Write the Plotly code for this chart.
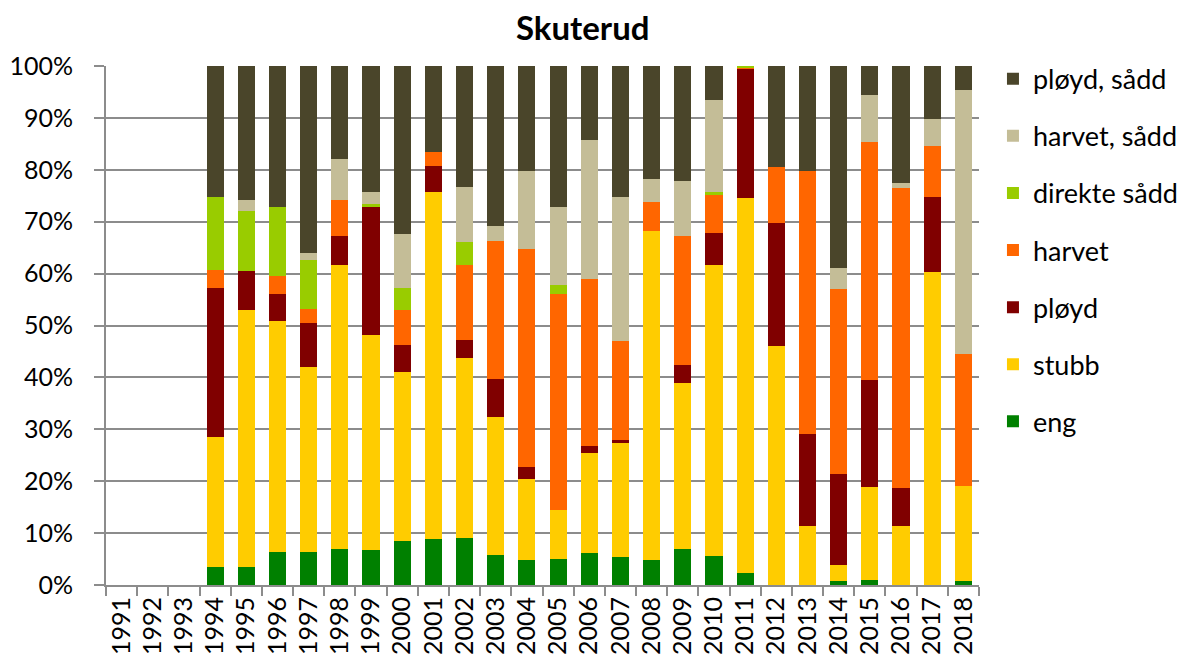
import plotly.graph_objects as go

# Skuterud - share of area per soil treatment, 1991-2018
years = [str(y) for y in range(1991, 2019)]

eng = [0, 0, 0, 3.5, 3.5, 6.4, 6.4, 7.0, 6.7,
       8.5, 8.9, 9.1, 5.7, 4.8, 5.1, 6.1, 5.4, 4.8, 7.0,
       5.5, 2.3, 0, 0, 0.7, 1.0, 0, 0, 0.7]
stubb = [0, 0, 0, 25.0, 49.4, 44.4, 35.6, 54.7, 41.5,
         32.6, 66.8, 34.7, 26.6, 15.6, 9.4, 19.4, 21.9, 63.4, 31.9,
         56.2, 72.2, 46.0, 11.3, 3.2, 17.9, 11.3, 60.4, 18.4]
ployd = [0, 0, 0, 28.8, 7.6, 5.3, 8.4, 5.6, 24.7,
         5.2, 5.0, 3.5, 7.4, 2.3, 0, 1.2, 0.6, 0, 3.4,
         6.2, 25.1, 23.7, 17.8, 17.4, 20.6, 7.3, 14.4, 0]
harvet = [0, 0, 0, 3.4, 0, 3.4, 2.8, 6.9, 0,
          6.6, 2.8, 14.4, 26.6, 42.1, 41.6, 32.2, 19.2, 5.6, 25.0,
          7.2, 0.2, 10.8, 50.7, 35.7, 45.9, 57.8, 9.7, 25.4]
direkte_sadd = [0, 0, 0, 14.1, 11.5, 13.4, 9.4, 0, 0.6,
                4.3, 0, 4.3, 0, 0, 1.8, 0, 0, 0, 0,
                0.6, 0.2, 0, 0, 0, 0, 0, 0, 0]
harvet_sadd = [0, 0, 0, 0, 2.2, 0, 1.3, 7.8, 2.2,
               10.4, 0, 10.7, 2.8, 15.0, 15.0, 26.8, 27.7, 4.5, 10.6,
               17.8, 0, 0, 0, 4.0, 9.1, 1.1, 5.3, 50.9]
ployd_sadd = [0, 0, 0, 25.2, 25.8, 27.1, 36.1, 18.0, 24.3,
              32.4, 16.5, 23.3, 30.9, 20.2, 27.1, 14.3, 25.2, 21.7, 22.1,
              6.5, 0, 19.5, 20.2, 39.0, 5.5, 22.5, 10.2, 4.6]

series = [
    ("eng", eng, "#008000"),
    ("stubb", stubb, "#FFCC00"),
    ("pløyd", ployd, "#800000"),
    ("harvet", harvet, "#FF6600"),
    ("direkte sådd", direkte_sadd, "#99CC00"),
    ("harvet, sådd", harvet_sadd, "#C4BD97"),
    ("pløyd, sådd", ployd_sadd, "#4A452A"),
]

FONT = "Lato"
GRID = "#8C8C8C"

fig = go.Figure()
for i, (name, vals, color) in enumerate(series):
    # top of the stack first in the legend
    fig.add_trace(go.Bar(x=years, y=vals, name=name, legendgroup=name,
                         legendrank=len(series) - i,
                         marker=dict(color=color, line=dict(width=0))))

fig.update_layout(
    width=1185, height=667,
    barmode="stack", bargap=0.45,
    plot_bgcolor="white", paper_bgcolor="white",
    margin=dict(l=98, r=214, t=58, b=90, autoexpand=False),
    font=dict(family=FONT, size=24, color="#000000"),
    title=dict(text="<b>Skuterud</b>", x=0.485, xref="container", xanchor="center",
               y=0.97, yref="container", yanchor="middle",
               font=dict(family=FONT, size=33)),
    legend=dict(traceorder="grouped", tracegroupgap=19, maxheight=600,
                x=1.016, xanchor="left", y=0.930, yref="container", yanchor="top",
                font=dict(size=27)),
)
fig.update_yaxes(range=[0, 100], dtick=10, ticksuffix="%", automargin=False,
                 showgrid=True, gridcolor=GRID, gridwidth=2,
                 showline=True, linecolor=GRID, linewidth=2,
                 ticks="outside", ticklen=10, tickcolor=GRID, tickwidth=2,
                 ticklabelstandoff=16, zeroline=False,
                 tickfont=dict(size=25))
fig.update_xaxes(type="category", tickangle=-90, tickson="boundaries", automargin=False,
                 showline=True, linecolor=GRID, linewidth=2,
                 ticks="outside", ticklen=9, tickcolor=GRID, tickwidth=2,
                 showgrid=False, tickfont=dict(size=25))

fig.write_html("out.html")
